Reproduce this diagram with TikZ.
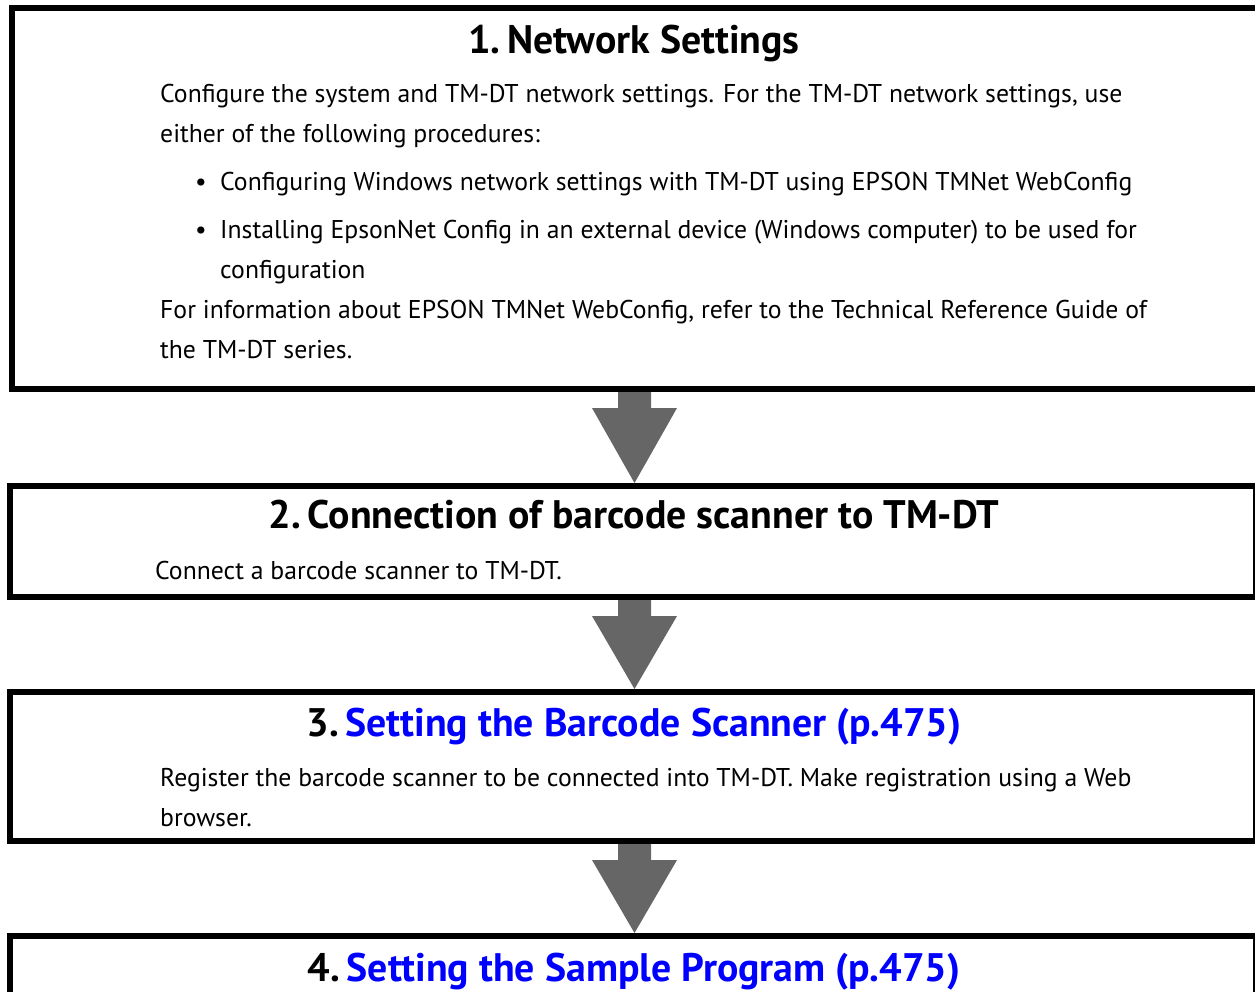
\documentclass[tikz,border=0pt]{standalone}
\usepackage{fontspec}
\setmainfont{PT Sans}
\usetikzlibrary{calc}
\definecolor{linkblue}{RGB}{0,0,255}
\definecolor{arrowgray}{RGB}{102,102,102}
\newcommand{\bodyfont}{\fontsize{25.7}{40}\selectfont}
\newcommand{\headfont}{\fontsize{39.8}{44}\selectfont\bfseries}
% block arrow from the bottom of one box to the top of the next
\newcommand{\blockarrow}[2]{%
  \fill[arrowgray] ($(#1.south -| mid)+(-16.5,0)$) -- ++(0,16) -- ++(-26,0)
    -- (#2.north -| mid) -- ($(#1.south -| mid)+(42.5,16)$) -- ++(-26,0)
    -- ++(0,-16) -- cycle;}
\begin{document}
\begin{tikzpicture}[x=1pt,y=-1pt,
  stepbox/.style={draw,line width=6pt,inner sep=0pt,anchor=north west},
  body/.style={anchor=base west,inner sep=0pt,font=\bodyfont},
  head/.style={anchor=base,inner sep=0pt,font=\headfont}]
\useasboundingbox (0,0) rectangle (1255,991);
% middle line of the arrows
\coordinate (mid) at (634.5,0);

% boxes
\node[stepbox,minimum width=1250pt,minimum height=381pt] (b1) at (9,5) {};
\node[stepbox,minimum width=1246pt,minimum height=111pt] (b2) at (7,483) {};
\node[stepbox,minimum width=1246pt,minimum height=149pt] (b3) at (7,689) {};
\node[stepbox,minimum width=1246pt,minimum height=100pt] (b4) at (7,933) {};

% arrows
\blockarrow{b1}{b2}
\blockarrow{b2}{b3}
\blockarrow{b3}{b4}

% step 1
\node[head] (h1) at (634,53) {1.\,Network Settings};
\node[body] (t1a) at (160,102) {Configure the system and TM-DT network settings. For the TM-DT network settings, use};
\node[body] (t1b) at (160,142) {either of the following procedures:};
\node[body] (d1) at (195,190) {\textbullet};
\node[body] (t1c) at (220,190) {Configuring Windows network settings with TM-DT using EPSON TMNet WebConfig};
\node[body] (d2) at (195,238) {\textbullet};
\node[body] (t1d) at (220,238) {Installing EpsonNet Config in an external device (Windows computer) to be used for};
\node[body] (t1e) at (220,278) {configuration};
\node[body] (t1f) at (160,318) {For information about EPSON TMNet WebConfig, refer to the Technical Reference Guide of};
\node[body] (t1g) at (160,358) {the TM-DT series.};

% step 2
\node[head] (h2) at (634,528) {2.\,Connection of barcode scanner to TM-DT};
\node[body] (t2) at (155,579) {Connect a barcode scanner to TM-DT.};

% step 3
\node[head] (h3) at (634,736) {3.\,\textcolor{linkblue}{Setting the Barcode Scanner (p.475)}};
\node[body] (t3a) at (160,786) {Register the barcode scanner to be connected into TM-DT. Make registration using a Web};
\node[body] (t3b) at (160,826) {browser.};

% step 4
\node[head] (h4) at (634,981) {4.\,\textcolor{linkblue}{Setting the Sample Program (p.475)}};

\end{tikzpicture}
\end{document}
